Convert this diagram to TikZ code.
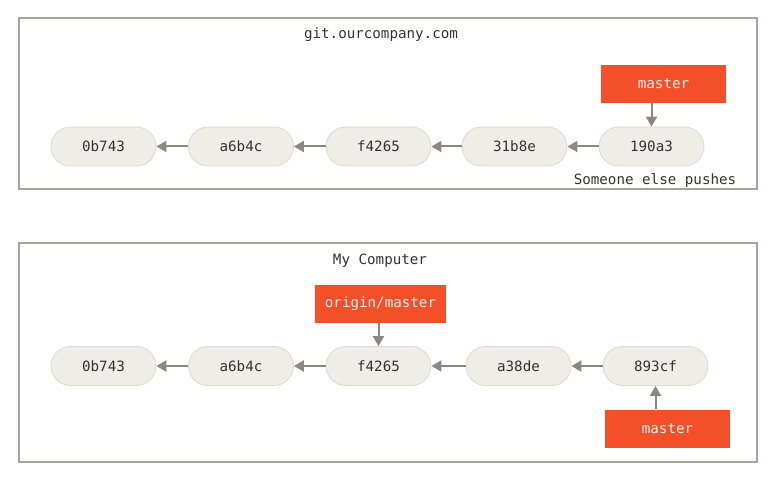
\documentclass[tikz,border=0pt]{standalone}
\usepackage{fontspec}
\setmonofont{DejaVu Sans Mono}
\usetikzlibrary{arrows.meta}
\definecolor{boxgray}{HTML}{A8A49E}
\definecolor{commitfill}{HTML}{EFEDE8}
\definecolor{commitdraw}{HTML}{DCD9D2}
\definecolor{arrowgray}{HTML}{8C8781}
\definecolor{branchred}{HTML}{F34F29}
\definecolor{textdark}{HTML}{333333}
\tikzset{
  frame/.style={draw=boxgray, line width=2pt},
  commit/.style={draw=commitdraw, fill=commitfill, line width=0.8pt, rounded corners=19.5pt,
    minimum width=105pt, minimum height=39pt, inner sep=0pt,
    font=\ttfamily\fontsize{14.2}{16}\selectfont, text=textdark},
  branch/.style={fill=branchred, minimum height=38pt, inner sep=0pt,
    font=\ttfamily\fontsize{14.2}{16}\selectfont, text=white!92!branchred},
  lbl/.style={font=\ttfamily\fontsize{14.2}{16}\selectfont, text=textdark, inner sep=0pt},
  link/.style={draw=arrowgray, line width=2pt, -{Triangle[length=10pt,width=11pt]}}
}
\begin{document}
\begin{tikzpicture}[x=1pt,y=-1pt]
\useasboundingbox (0,0) rectangle (775,478);
% top frame
\node[frame, minimum width=738pt, minimum height=171pt, inner sep=0pt] (topframe) at (388,103.5) {};
\node[lbl] (toptitle) at (381,34.5) {git.ourcompany.com};
\node[commit] (t1) at (103.5,146.5) {0b743};
\node[commit] (t2) at (241,146.5) {a6b4c};
\node[commit] (t3) at (378.5,146.5) {f4265};
\node[commit] (t4) at (514.5,146.5) {31b8e};
\node[commit] (t5) at (651.5,146.5) {190a3};
\node[branch, minimum width=125pt] (tmaster) at (663.5,84) {master};
\node[lbl] (push) at (655,181) {Someone else pushes};
\draw[link] (t2) -- (t1);
\draw[link] (t3) -- (t2);
\draw[link] (t4) -- (t3);
\draw[link] (t5) -- (t4);
\draw[link] (tmaster.south -| t5) -- (t5.north);
% bottom frame
\node[frame, minimum width=738pt, minimum height=219pt, inner sep=0pt] (botframe) at (388,352.5) {};
\node[lbl] (bottitle) at (380,260.5) {My Computer};
\node[commit] (b1) at (103.5,366) {0b743};
\node[commit] (b2) at (241,366) {a6b4c};
\node[commit] (b3) at (378.5,366) {f4265};
\node[commit] (b4) at (518.5,366) {a38de};
\node[commit] (b5) at (655.5,366) {893cf};
\node[branch, minimum width=131pt] (origin) at (380.5,303.5) {origin/master};
\node[branch, minimum width=125pt] (bmaster) at (667.5,428.5) {master};
\draw[link] (b2) -- (b1);
\draw[link] (b3) -- (b2);
\draw[link] (b4) -- (b3);
\draw[link] (b5) -- (b4);
\draw[link] (origin.south -| b3) -- (b3.north);
\draw[link] (bmaster.north -| b5) -- (b5.south);
\end{tikzpicture}
\end{document}
